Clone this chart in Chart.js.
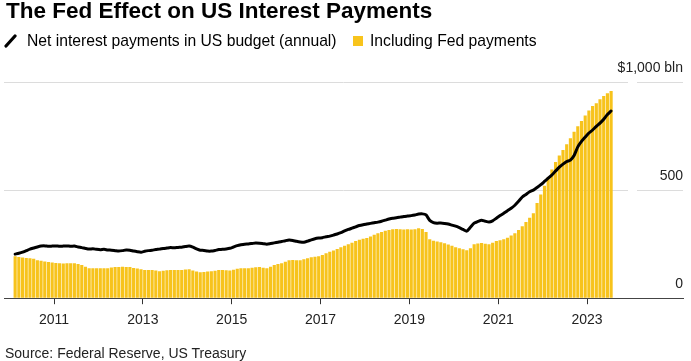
<!DOCTYPE html>
<html>
<head>
<meta charset="utf-8">
<script src="https://cdn.jsdelivr.net/npm/chart.js@4"></script>
<style>
  body { margin: 0; background: #fff; font-family: "Liberation Sans", Arial, sans-serif; }
  #wrap { position: relative; width: 691px; height: 361px; overflow: hidden; }
  #chart { position: absolute; left: 0; top: 0; }
  .txt { position: absolute; white-space: nowrap; line-height: 1; color: #000; }
  #title { left: 6px; top: 0px; font-size: 22.5px; font-weight: bold; }
  .leg { top: 33px; font-size: 15.7px; }
  #source { left: 5px; top: 346px; font-size: 14px; color: #222; }
  #swatch { position: absolute; left: 353px; top: 36px; width: 10px; height: 10px; background: #f8c41c; }
  #slash { position: absolute; left: 4px; top: 34px; }
</style>
</head>
<body>
<div id="wrap">
  <canvas id="chart" width="691" height="361"></canvas>
  <div id="title" class="txt">The Fed Effect on US Interest Payments</div>
  <svg id="slash" width="13" height="14"><line x1="2" y1="12" x2="11" y2="2" stroke="#000" stroke-width="3.2" stroke-linecap="round"/></svg>
  <div class="txt leg" style="left:27px">Net interest payments in US budget (annual)</div>
  <div id="swatch"></div>
  <div class="txt leg" style="left:370px">Including Fed payments</div>
  <div id="source" class="txt">Source: Federal Reserve, US Treasury</div>
</div>
<script>
// monthly data, Feb 2010 .. Jul 2023 ($ bln, annualised)
const startYear = 2010;
const startMonth = 2;

const netInterest = [
  204, 208, 213, 220, 227, 232, 237, 241, 242, 240, 241, 242,
  240, 241, 242, 240, 241, 237, 234, 230, 227, 229, 226, 224,
  226, 223, 222, 220, 218, 220, 223, 222, 218, 215, 213, 217,
  220, 222, 225, 227, 230, 232, 234, 233, 235, 236, 239, 241,
  236, 228, 222, 221, 218, 218, 221, 225, 226, 228, 231, 237,
  243, 247, 250, 251, 253, 255, 254, 252, 250, 253, 256, 259,
  262, 266, 269, 267, 263, 260, 259, 264, 270, 275, 278, 280,
  284, 287, 292, 297, 303, 311, 318, 324, 330, 336, 340, 343,
  346, 349, 352, 356, 361, 366, 370, 372, 375, 378, 380, 382,
  385, 389, 390, 385, 360, 350, 347, 348, 346, 343, 338, 333,
  326, 318, 310, 328, 347, 355, 361, 356, 352, 358, 370, 382,
  393, 405, 416, 430, 448, 468, 480, 492, 500, 512, 525, 540,
  555, 570, 588, 606, 620, 632, 639, 660, 700, 725, 745, 764,
  778, 795, 810, 828, 850, 866
];

const withFed = [
  194, 190, 188, 186, 185, 182, 176, 173, 170, 167, 165, 163,
  162, 161, 162, 162, 162, 158, 153, 146, 139, 139, 138, 139,
  139, 139, 142, 144, 144, 145, 144, 144, 140, 137, 134, 131,
  130, 130, 128, 125, 127, 129, 130, 130, 130, 130, 133, 134,
  128, 124, 120, 121, 123, 125, 127, 130, 130, 129, 128, 132,
  136, 139, 139, 139, 141, 143, 144, 141, 139, 146, 153, 158,
  162, 169, 176, 177, 176, 176, 180, 185, 189, 192, 194, 200,
  208, 215, 221, 227, 236, 243, 250, 257, 265, 270, 275, 278,
  285, 293, 300, 306, 312, 316, 319, 320, 319, 318, 319, 318,
  319, 324, 320, 306, 273, 266, 262, 259, 254, 248, 243, 236,
  231, 226, 222, 231, 250, 253, 255, 252, 250, 257, 264, 268,
  273, 280, 290, 300, 315, 333, 352, 372, 393, 440, 480, 520,
  560, 595, 630, 660, 685, 712, 740, 770, 795, 820, 845, 868,
  889, 902, 920, 935, 948, 958
];

const yearTicks = [2011, 2013, 2015, 2017, 2019, 2021, 2023];
const valueTicks = [0, 500, 1000];

// month position on a decimal-year axis (centre of the month)
const monthX = [];
for (let i = 0; i < withFed.length; i++) {
    const m = startMonth - 1 + i;
    monthX.push(startYear + Math.floor(m / 12) + ((m % 12) + 0.5) / 12);
}

// the reference leaves a small gap in the gridlines next to the labels
const gridGap = {
    id: 'gridGap',
    beforeDatasetsDraw(chart) {
        const { ctx, chartArea } = chart;
        ctx.save();
        ctx.fillStyle = '#fff';
        ctx.fillRect(628, chartArea.top - 2, 9, chartArea.bottom - chartArea.top - 2);
        ctx.restore();
    }
};

new Chart(document.getElementById('chart'), {
    data: {
        datasets: [
            {
                type: 'line',
                label: 'Net interest payments in US budget (annual)',
                data: monthX.map((x, i) => ({ x: x, y: netInterest[i] })),
                borderColor: '#000',
                borderWidth: 3,
                pointRadius: 0,
                tension: 0.2,
                borderJoinStyle: 'round',
                borderCapStyle: 'round',
                order: 0
            },
            {
                type: 'bar',
                label: 'Including Fed payments',
                data: monthX.map((x, i) => ({ x: x, y: withFed[i] })),
                backgroundColor: '#f7c31c',
                borderWidth: 0,
                categoryPercentage: 1,
                barPercentage: 0.85,
                order: 1
            }
        ]
    },
    options: {
        responsive: false,
        animation: false,
        devicePixelRatio: 1,
        layout: { padding: { top: 82, left: 4, right: 8, bottom: 24 } },
        plugins: {
            legend: { display: false },
            tooltip: { enabled: false }
        },
        scales: {
            x: {
                type: 'linear',
                offset: false,
                min: 2009.874,
                max: 2025.16,
                afterBuildTicks: (s) => { s.ticks = yearTicks.map(v => ({ value: v })); },
                grid: { offset: false, drawOnChartArea: false, drawTicks: true, tickLength: 6, tickColor: '#333' },
                border: { display: true, color: '#444', width: 1 },
                ticks: {
                    color: '#222',
                    padding: 8,
                    maxRotation: 0,
                    font: { family: 'Liberation Sans', size: 14 },
                    callback: (v) => String(v)
                }
            },
            y: {
                position: 'right',
                min: 0,
                max: 1000,
                afterBuildTicks: (s) => { s.ticks = valueTicks.map(v => ({ value: v })); },
                grid: {
                    drawTicks: false,
                    color: (c) => c.tick && c.tick.value === 0 ? 'rgba(0,0,0,0)' : '#dcdcdc'
                },
                border: { display: false },
                ticks: {
                    mirror: true,
                    padding: 0,
                    labelOffset: -14,
                    color: '#222',
                    font: { family: 'Liberation Sans', size: 14 },
                    callback: (v) => v === 1000 ? '$1,000 bln' : String(v)
                }
            }
        }
    },
    plugins: [gridGap]
});
</script>
</body>
</html>
